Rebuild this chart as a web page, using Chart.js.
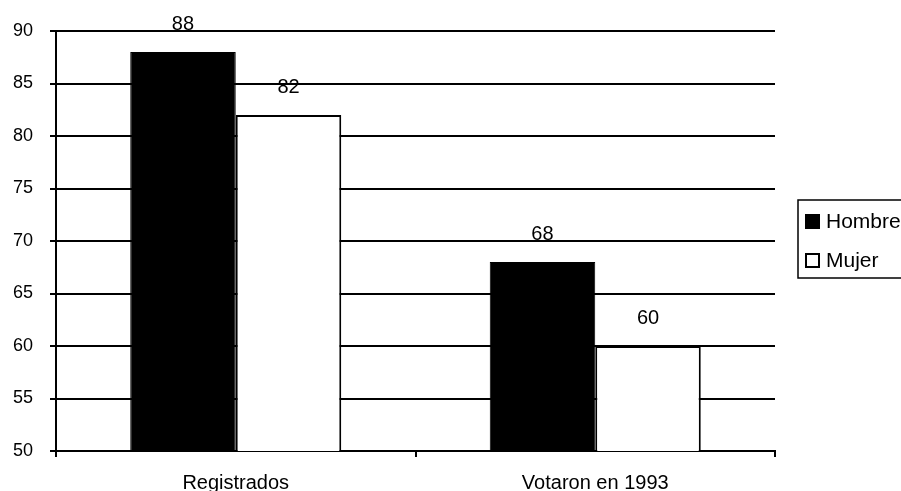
<!DOCTYPE html>
<html>
<head>
<meta charset="utf-8">
<script src="https://cdn.jsdelivr.net/npm/chart.js@4/dist/chart.umd.min.js"></script>
<style>
	html, body { margin: 0; padding: 0; background: #fff; }
	#wrap { width: 901px; height: 491px; }
</style>
</head>
<body>
<div id="wrap"><canvas id="BarChart" width="901" height="491"></canvas></div>
<script>
var Categorias = ['Registrados', 'Votaron en 1993'];
var Hombre = [88, 68];
var Mujer = [82, 60];
var SeriesNames = ['Hombre', 'Mujer'];
var YTicks = [50, 55, 60, 65, 70, 75, 80, 85, 90];

var FontFam = '"Liberation Sans", Arial, sans-serif';

// numbers above each bar
var valueLabels = {
	id: 'valueLabels',
	afterDatasetsDraw: function(chart){
		var ctx = chart.ctx;
		ctx.save();
		ctx.fillStyle = '#000';
		ctx.font = '20px ' + FontFam;
		ctx.textAlign = 'center';
		ctx.textBaseline = 'middle';
		chart.data.datasets.forEach(function(ds, i){
			chart.getDatasetMeta(i).data.forEach(function(bar, j){
				ctx.fillText(ds.data[j], bar.x, bar.y - 28);
			});
		});
		ctx.restore();
	}
};

// boxed legend at the right, partly cut by the edge
var boxLegend = {
	id: 'boxLegend',
	afterDraw: function(chart){
		var ctx = chart.ctx;
		var x = 798, y = 200;
		ctx.save();
		ctx.strokeStyle = '#000';
		ctx.lineWidth = 1.5;
		ctx.strokeRect(x, y, 120, 78);
		ctx.font = '21px ' + FontFam;
		ctx.textBaseline = 'middle';
		chart.data.datasets.forEach(function(ds, i){
			var cy = y + 21 + i * 39;
			ctx.fillStyle = ds.backgroundColor;
			ctx.fillRect(805, cy - 7, 15, 15);
			ctx.lineWidth = 2;
			ctx.strokeRect(806, cy - 6, 13, 13);
			ctx.fillStyle = '#000';
			ctx.fillText(ds.label, 826, cy + 1);
		});
		ctx.restore();
	}
};

new Chart(document.getElementById('BarChart'), {
	type: 'bar',
	data: {
		labels: Categorias,
		datasets: [{
			label: SeriesNames[0],
			data: Hombre,
			backgroundColor: '#000',
			borderColor: '#000',
			borderWidth: 1
		},{
			label: SeriesNames[1],
			data: Mujer,
			backgroundColor: '#fff',
			borderColor: '#000',
			borderWidth: 2
		}]
	},
	options: {
		responsive: false,
		animation: false,
		categoryPercentage: 0.587,
		barPercentage: 1,
		layout: { padding: { top: 31, right: 126, bottom: 0, left: 0 } },
		plugins: {
			legend: { display: false },
			tooltip: { enabled: false }
		},
		scales: {
			x: {
				afterFit: function(scale){ scale.height = 40; },
				grid: { drawOnChartArea: false, drawTicks: true, tickLength: 6, color: '#000', lineWidth: 2 },
				border: { display: true, color: '#000', width: 2 },
				ticks: { color: '#000', padding: 14, font: { family: FontFam, size: 20 } }
			},
			y: {
				min: 50,
				max: 90,
				afterFit: function(scale){ scale.width = 56; },
				afterBuildTicks: function(scale){ scale.ticks = YTicks.map(function(v){ return { value: v }; }); },
				grid: { color: '#000', lineWidth: 2, tickLength: 6 },
				border: { display: true, color: '#000', width: 2 },
				ticks: { color: '#000', padding: 17, font: { family: FontFam, size: 18 } }
			}
		}
	},
	plugins: [valueLabels, boxLegend]
});
</script>
</body>
</html>
